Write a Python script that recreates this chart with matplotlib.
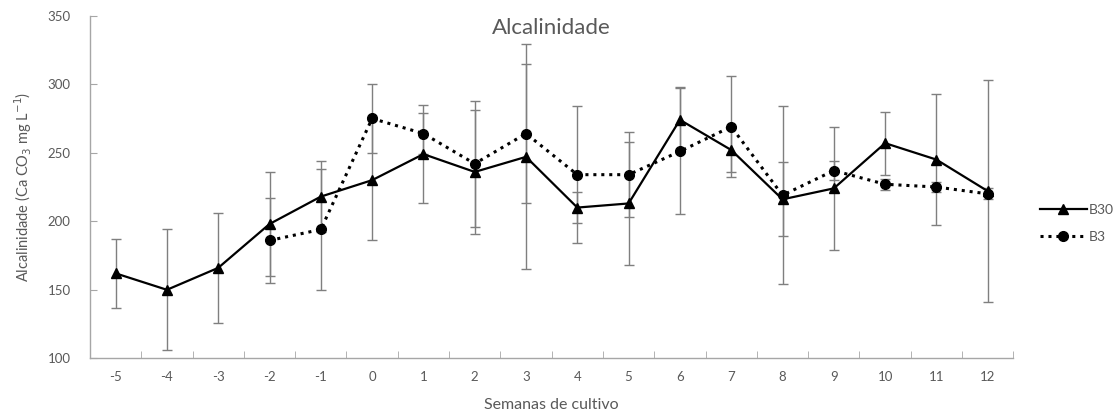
import matplotlib.pyplot as plt
import numpy as np

plt.rcParams['font.family'] = ['Lato', 'DejaVu Sans']
plt.rcParams['axes.unicode_minus'] = False

# Weeks of culture
weeks = np.arange(-5, 13)
weeks_b3 = np.arange(-2, 13)

# Alkalinity means and standard deviations
b30 = [162, 150, 166, 198, 218, 230, 249, 236, 247, 210, 213, 274, 252, 216, 224, 257, 245, 222]
b30_err = [25, 44, 40, 38, 26, 44, 36, 45, 82, 11, 45, 24, 16, 27, 45, 23, 48, 81]
b3 = [186, 194, 275, 264, 242, 264, 234, 234, 251, 269, 219, 237, 227, 225, 220]
b3_err = [31, 44, 25, 15, 46, 51, 50, 31, 46, 37, 65, 7, 4, 4, 4]

gray = '#595959'
bar_gray = '#7f7f7f'
axis_gray = '#a6a6a6'

fig = plt.figure(figsize=(11.19, 4.12), dpi=100)
ax = fig.add_axes([0.0804, 0.1303, 0.8252, 0.8316])

# error bars first so the lines sit on top
ax.errorbar(weeks, b30, yerr=b30_err, fmt='none', ecolor=bar_gray,
            elinewidth=1, capsize=3.3, capthick=1, zorder=2)
ax.errorbar(weeks_b3, b3, yerr=b3_err, fmt='none', ecolor=bar_gray,
            elinewidth=1, capsize=3.3, capthick=1, zorder=2)

l1, = ax.plot(weeks, b30, color='black', lw=1.6, marker='^', ms=6.5, zorder=4,
              label='B30')
l2, = ax.plot(weeks_b3, b3, color='black', lw=2.2, ls=(0, (1, 1.6)),
              marker='o', ms=7, zorder=3, label='B3')

ax.set_xlim(-5.5, 12.5)
ax.set_ylim(100, 350)
ax.set_yticks(np.arange(100, 351, 50))
ax.set_xticks(weeks)
ax.set_xticks(np.arange(-5.5, 12.6, 1), minor=True)

ax.spines['top'].set_visible(False)
ax.spines['right'].set_visible(False)
for s in ('left', 'bottom'):
    ax.spines[s].set_color(axis_gray)
    ax.spines[s].set_linewidth(1)

ax.tick_params(axis='x', which='major', length=0, pad=9, labelsize=9.5, labelcolor=gray)
ax.tick_params(axis='x', which='minor', direction='in', length=5, color=axis_gray)
ax.tick_params(axis='y', direction='in', length=5, color=axis_gray, pad=14,
               labelsize=9.5, labelcolor=gray)

ax.text(0.5, 0.965, 'Alcalinidade', transform=ax.transAxes, ha='center',
        va='center', fontsize=16, color=gray)
ax.set_xlabel('Semanas de cultivo', fontsize=11.5, color=gray, labelpad=11)
ax.set_ylabel('Alcalinidade (Ca CO$_3$ mg L$^{-1}$)', fontsize=10.5, color=gray,
              labelpad=10)

fig.legend(handles=[l1, l2], loc='center left', bbox_to_anchor=(0.918, 0.458),
           frameon=False, fontsize=10, labelcolor=gray, handlelength=3.4,
           handletextpad=0.15, labelspacing=1.1)

fig.savefig('out.png', dpi=100)
